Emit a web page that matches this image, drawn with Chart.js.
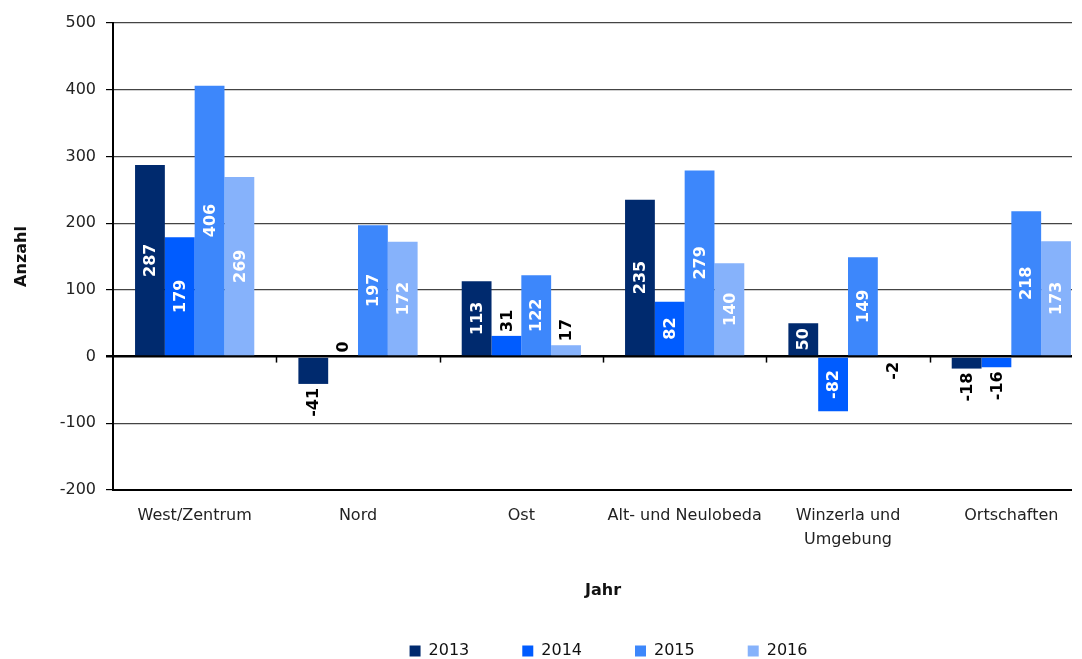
<!DOCTYPE html>
<html>
<head>
<meta charset="utf-8">
<script src="https://cdn.jsdelivr.net/npm/chart.js@4"></script>
<style>
  html, body { margin: 0; background: #fff; overflow: hidden; }
  #wrap { width: 1093px; height: 659px; position: relative; }
</style>
</head>
<body>
<div id="wrap"><canvas id="chart"></canvas></div>
<script>
const categories = ["West/Zentrum", "Nord", "Ost", "Alt- und Neulobeda", ["Winzerla und", "Umgebung"], "Ortschaften"];
const years = ["2013", "2014", "2015", "2016"];
const values2013 = [287, -41, 113, 235, 50, -18];
const values2014 = [179, 0, 31, 82, -82, -16];
const values2015 = [406, 197, 122, 279, 149, 218];
const values2016 = [269, 172, 17, 140, -2, 173];
const colors = ["#002a6e", "#005cff", "#3d87fb", "#86b2fb"];

const FONT = '"DejaVu Sans", sans-serif';
const PLOT_RIGHT = 1071;

// labels on the bars, turned upright
const barLabels = {
  id: "barLabels",
  afterDatasetsDraw(chart) {
    const ctx = chart.ctx;
    ctx.save();
    ctx.font = "bold 16px " + FONT;
    ctx.textBaseline = "middle";
    chart.data.datasets.forEach((ds, i) => {
      const meta = chart.getDatasetMeta(i);
      meta.data.forEach((bar, j) => {
        const v = ds.data[j];
        const txt = String(v);
        const w = ctx.measureText(txt).width;
        const len = Math.abs(bar.base - bar.y);
        ctx.save();
        if (len >= w + 8) {
          ctx.fillStyle = "#fff";
          ctx.translate(bar.x, (bar.y + bar.base) / 2);
          ctx.rotate(-Math.PI / 2);
          ctx.textAlign = "center";
          ctx.fillText(txt, 0, 1);
        } else if (v >= 0) {
          ctx.fillStyle = "#000";
          ctx.translate(bar.x, bar.y - 4);
          ctx.rotate(-Math.PI / 2);
          ctx.textAlign = "left";
          ctx.fillText(txt, 0, 1);
        } else {
          ctx.fillStyle = "#000";
          ctx.translate(bar.x, bar.y + 4);
          ctx.rotate(-Math.PI / 2);
          ctx.textAlign = "right";
          ctx.fillText(txt, 0, 1);
        }
        ctx.restore();
      });
    });
    ctx.restore();
  }
};

// small ticks on the zero line between the groups, and trim the plot on the right
const zeroTicks = {
  id: "zeroTicks",
  afterLayout(chart) {
    chart.legend.left += 62;
    chart.legend.right += 62;
  },
  afterDraw(chart) {
    const ctx = chart.ctx;
    const x = chart.scales.x;
    const y0 = chart.scales.y.getPixelForValue(0);
    const step = (x.right - x.left) / categories.length;
    ctx.save();
    ctx.strokeStyle = "#000";
    ctx.lineWidth = 1.5;
    for (let k = 1; k < categories.length; k++) {
      const px = Math.round(x.left + step * k) + 0.5;
      ctx.beginPath();
      ctx.moveTo(px, y0);
      ctx.lineTo(px, y0 + 6);
      ctx.stroke();
    }
    ctx.fillStyle = "#fff";
    ctx.fillRect(PLOT_RIGHT + 1, 0, chart.width - PLOT_RIGHT, chart.chartArea.bottom + 3);
    ctx.restore();
  }
};

const allValues = [values2013, values2014, values2015, values2016];

new Chart(document.getElementById("chart"), {
  type: "bar",
  data: {
    labels: categories,
    datasets: years.map((yr, i) => ({
      label: yr,
      data: allValues[i],
      backgroundColor: colors[i],
      borderWidth: 0,
      barPercentage: 1.0,
      categoryPercentage: 0.73
    }))
  },
  options: {
    responsive: true,
    maintainAspectRatio: false,
    animation: false,
    layout: { padding: { top: 23, right: 0, left: 0, bottom: -10 } },
    plugins: {
      tooltip: { enabled: false },
      legend: {
        position: "bottom",
        labels: {
          boxWidth: 11,
          boxHeight: 11,
          padding: 53,
          color: "#111",
          font: { family: FONT, size: 16 }
        }
      }
    },
    scales: {
      x: {
        grid: { display: false, drawTicks: false },
        border: { display: true, color: "#000", width: 2 },
        ticks: {
          color: "#222",
          font: { family: FONT, size: 16, lineHeight: 1.5 },
          maxRotation: 0,
          autoSkip: false,
          padding: 14
        },
        title: {
          display: true,
          text: "Jahr",
          color: "#111",
          font: { family: FONT, size: 16, weight: "bold" },
          padding: { top: 0, bottom: -10 }
        },
        afterFit(scale) { scale.height = 100; }
      },
      y: {
        min: -200,
        max: 500,
        ticks: {
          stepSize: 100,
          color: "#222",
          font: { family: FONT, size: 16 },
          padding: 10
        },
        grid: {
          color: ctx => ctx.tick && ctx.tick.value === 0 ? "#000" : "#444",
          lineWidth: ctx => ctx.tick && ctx.tick.value === 0 ? 2.5 : 1.2,
          tickColor: "#000",
          tickLength: 7
        },
        border: { display: true, color: "#000", width: 2 },
        title: {
          display: true,
          text: "Anzahl",
          color: "#111",
          font: { family: FONT, size: 16, weight: "bold" },
          padding: { top: 12, bottom: 20 }
        },
        afterFit(scale) { scale.width = 113; }
      }
    }
  },
  plugins: [barLabels, zeroTicks]
});
</script>
</body>
</html>
